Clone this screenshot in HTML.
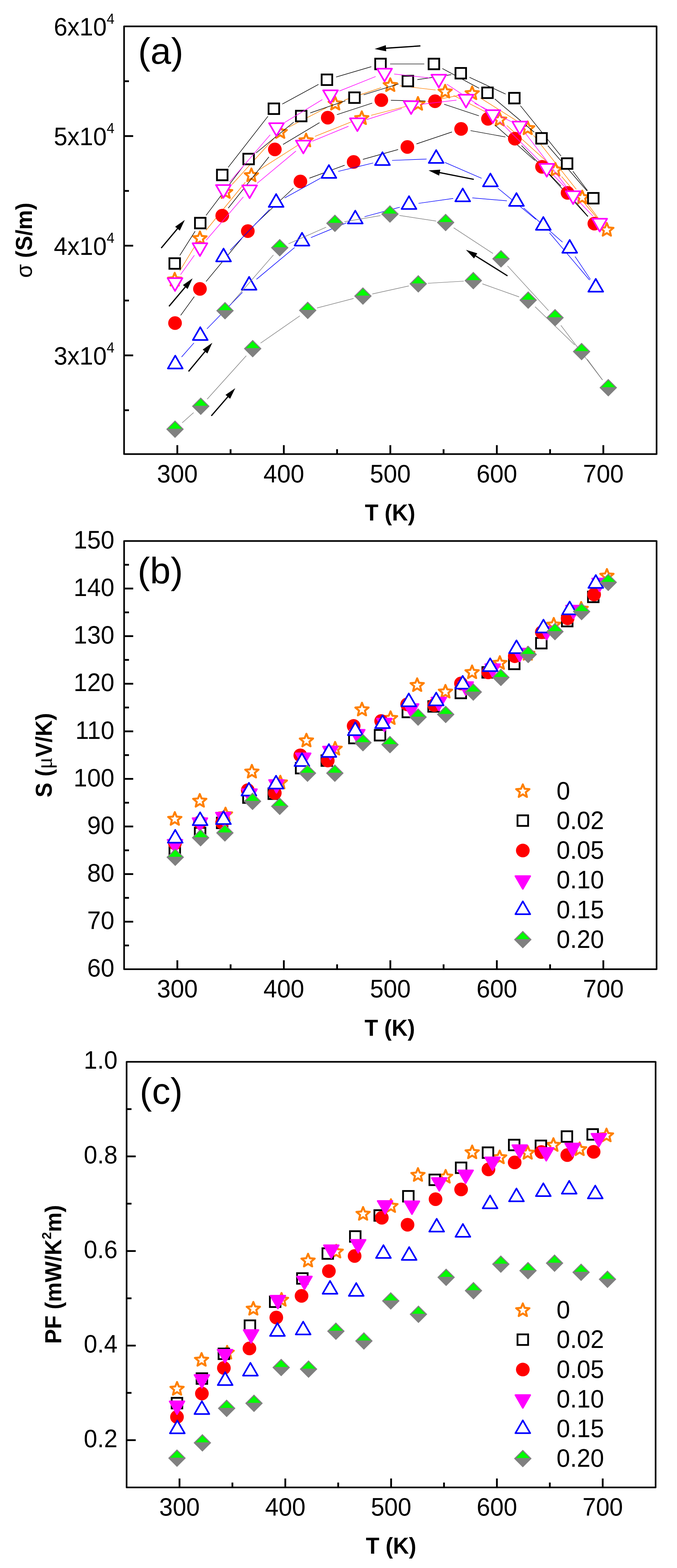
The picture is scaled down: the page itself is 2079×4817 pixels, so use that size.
<!DOCTYPE html>
<html lang="en"><head><meta charset="utf-8"><title>Figure: electrical conductivity, Seebeck coefficient and power factor vs temperature</title>
<style>
html,body{margin:0;padding:0;background:#fff;}
body{width:2079px;height:4817px;overflow:hidden;}
svg{display:block;}
svg text{font-family:"Liberation Sans",sans-serif;}
</style></head>
<body>
<svg width="2079" height="4817" viewBox="0 0 2079 4817" font-family='"Liberation Sans", sans-serif' fill="#000">
<g id="panel-a">
<path d="M551.87 832.32L598.63 755.68M632.66 707.65L753.34 559.85M796.88 521.15L915.12 445.85M967.38 419.03L1083.62 372.47M1139.58 354.21L1254.92 324.79M1312.45 311.85L1421.05 290.65M1474.95 300.73L1595.55 376.77M1638.76 415.67L1769.74 581.83M1805.83 628.5L1845.67 681M1844.31 682.09L1724.69 542.41M1683.58 500.26L1556.42 385.74M1508.26 352.53L1393.24 293.47M1337.71 276.52L1227.79 263.48M1170.55 269.43L1057.45 307.57M1003.27 330.5L886.73 390.5M840.67 425.84L712.83 566.66" fill="none" stroke="#ff8000" stroke-width="1.7"/>
<polygon points="536.5,838.14 542.08,851.86 556.85,852.93 545.54,862.48 549.08,876.86 536.5,869.04 523.92,876.86 527.46,862.48 516.15,852.93 530.92,851.86" fill="#fff" stroke="#ff8000" stroke-width="6.1" stroke-linejoin="round"/>
<polygon points="614,711.14 619.58,724.86 634.35,725.93 623.04,735.48 626.58,749.86 614,742.04 601.42,749.86 604.96,735.48 593.65,725.93 608.42,724.86" fill="#fff" stroke="#ff8000" stroke-width="6.1" stroke-linejoin="round"/>
<polygon points="693,569.14 698.58,582.86 713.35,583.93 702.04,593.48 705.58,607.86 693,600.04 680.42,607.86 683.96,593.48 672.65,583.93 687.42,582.86" fill="#fff" stroke="#ff8000" stroke-width="6.1" stroke-linejoin="round"/>
<polygon points="772,517.64 777.58,531.36 792.35,532.43 781.04,541.98 784.58,556.36 772,548.54 759.42,556.36 762.96,541.98 751.65,532.43 766.42,531.36" fill="#fff" stroke="#ff8000" stroke-width="6.1" stroke-linejoin="round"/>
<polygon points="860.5,384.64 866.08,398.36 880.85,399.43 869.54,408.98 873.08,423.36 860.5,415.54 847.92,423.36 851.46,408.98 840.15,399.43 854.92,398.36" fill="#fff" stroke="#ff8000" stroke-width="6.1" stroke-linejoin="round"/>
<polygon points="940,410.64 945.58,424.36 960.35,425.43 949.04,434.98 952.58,449.36 940,441.54 927.42,449.36 930.96,434.98 919.65,425.43 934.42,424.36" fill="#fff" stroke="#ff8000" stroke-width="6.1" stroke-linejoin="round"/>
<polygon points="1029.5,297.64 1035.08,311.36 1049.85,312.43 1038.54,321.98 1042.08,336.36 1029.5,328.54 1016.92,336.36 1020.46,321.98 1009.15,312.43 1023.92,311.36" fill="#fff" stroke="#ff8000" stroke-width="6.1" stroke-linejoin="round"/>
<polygon points="1111,342.14 1116.58,355.86 1131.35,356.93 1120.04,366.48 1123.58,380.86 1111,373.04 1098.42,380.86 1101.96,366.48 1090.65,356.93 1105.42,355.86" fill="#fff" stroke="#ff8000" stroke-width="6.1" stroke-linejoin="round"/>
<polygon points="1198.5,240.64 1204.08,254.36 1218.85,255.43 1207.54,264.98 1211.08,279.36 1198.5,271.54 1185.92,279.36 1189.46,264.98 1178.15,255.43 1192.92,254.36" fill="#fff" stroke="#ff8000" stroke-width="6.1" stroke-linejoin="round"/>
<polygon points="1283.5,298.14 1289.08,311.86 1303.85,312.93 1292.54,322.48 1296.08,336.86 1283.5,329.04 1270.92,336.86 1274.46,322.48 1263.15,312.93 1277.92,311.86" fill="#fff" stroke="#ff8000" stroke-width="6.1" stroke-linejoin="round"/>
<polygon points="1367,260.64 1372.58,274.36 1387.35,275.43 1376.04,284.98 1379.58,299.36 1367,291.54 1354.42,299.36 1357.96,284.98 1346.65,275.43 1361.42,274.36" fill="#fff" stroke="#ff8000" stroke-width="6.1" stroke-linejoin="round"/>
<polygon points="1450,265.64 1455.58,279.36 1470.35,280.43 1459.04,289.98 1462.58,304.36 1450,296.54 1437.42,304.36 1440.96,289.98 1429.65,280.43 1444.42,279.36" fill="#fff" stroke="#ff8000" stroke-width="6.1" stroke-linejoin="round"/>
<polygon points="1534.5,346.64 1540.08,360.36 1554.85,361.43 1543.54,370.98 1547.08,385.36 1534.5,377.54 1521.92,385.36 1525.46,370.98 1514.15,361.43 1528.92,360.36" fill="#fff" stroke="#ff8000" stroke-width="6.1" stroke-linejoin="round"/>
<polygon points="1620.5,373.14 1626.08,386.86 1640.85,387.93 1629.54,397.48 1633.08,411.86 1620.5,404.04 1607.92,411.86 1611.46,397.48 1600.15,387.93 1614.92,386.86" fill="#fff" stroke="#ff8000" stroke-width="6.1" stroke-linejoin="round"/>
<polygon points="1705.5,500.64 1711.08,514.36 1725.85,515.43 1714.54,524.98 1718.08,539.36 1705.5,531.54 1692.92,539.36 1696.46,524.98 1685.15,515.43 1699.92,514.36" fill="#fff" stroke="#ff8000" stroke-width="6.1" stroke-linejoin="round"/>
<polygon points="1788,585.64 1793.58,599.36 1808.35,600.43 1797.04,609.98 1800.58,624.36 1788,616.54 1775.42,624.36 1778.96,609.98 1767.65,600.43 1782.42,599.36" fill="#fff" stroke="#ff8000" stroke-width="6.1" stroke-linejoin="round"/>
<polygon points="1863.5,685.14 1869.08,698.86 1883.85,699.93 1872.54,709.48 1876.08,723.86 1863.5,716.04 1850.92,723.86 1854.46,709.48 1843.15,699.93 1857.92,698.86" fill="#fff" stroke="#ff8000" stroke-width="6.1" stroke-linejoin="round"/>
<path d="M552.26 784.56L599.24 710.24M632.77 661.75L745.73 512.05M786.34 469.83L902.16 375.17M952.88 346.86L1060.62 309.64M1116.67 291.24L1224.33 257.76M1281.68 244.69L1385.82 229.31M1441.75 237.44L1552.75 289.06M1598.01 324.47L1722.99 479.53M1759.29 526.03L1804.21 585.47M1802.71 586.68L1682.29 447.32M1640.45 405.98L1519.55 304.02M1471.02 271.02L1358.48 210.48M1303 196.5L1198 196.5M1140.2 204.84L1032.3 236.66M978.11 259.14L866.89 319.86M822.87 357.27L700.63 514.23" fill="none" stroke="#000000" stroke-width="1.7"/>
<rect x="520.25" y="793.25" width="32.5" height="32.5" fill="#fff" stroke="#000" stroke-width="5.5"/>
<rect x="598.75" y="669.05" width="32.5" height="32.5" fill="#fff" stroke="#000" stroke-width="5.5"/>
<rect x="666.25" y="521.25" width="32.5" height="32.5" fill="#fff" stroke="#000" stroke-width="5.5"/>
<rect x="747.25" y="472.25" width="32.5" height="32.5" fill="#fff" stroke="#000" stroke-width="5.5"/>
<rect x="824.75" y="317.75" width="32.5" height="32.5" fill="#fff" stroke="#000" stroke-width="5.5"/>
<rect x="908.75" y="340.25" width="32.5" height="32.5" fill="#fff" stroke="#000" stroke-width="5.5"/>
<rect x="987.75" y="228.75" width="32.5" height="32.5" fill="#fff" stroke="#000" stroke-width="5.5"/>
<rect x="1072.25" y="283.75" width="32.5" height="32.5" fill="#fff" stroke="#000" stroke-width="5.5"/>
<rect x="1152.25" y="180.25" width="32.5" height="32.5" fill="#fff" stroke="#000" stroke-width="5.5"/>
<rect x="1236.25" y="232.75" width="32.5" height="32.5" fill="#fff" stroke="#000" stroke-width="5.5"/>
<rect x="1316.25" y="180.25" width="32.5" height="32.5" fill="#fff" stroke="#000" stroke-width="5.5"/>
<rect x="1398.75" y="208.75" width="32.5" height="32.5" fill="#fff" stroke="#000" stroke-width="5.5"/>
<rect x="1480.75" y="268.75" width="32.5" height="32.5" fill="#fff" stroke="#000" stroke-width="5.5"/>
<rect x="1563.25" y="285.25" width="32.5" height="32.5" fill="#fff" stroke="#000" stroke-width="5.5"/>
<rect x="1646.75" y="408.75" width="32.5" height="32.5" fill="#fff" stroke="#000" stroke-width="5.5"/>
<rect x="1725.25" y="486.25" width="32.5" height="32.5" fill="#fff" stroke="#000" stroke-width="5.5"/>
<rect x="1805.75" y="592.75" width="32.5" height="32.5" fill="#fff" stroke="#000" stroke-width="5.5"/>
<path d="M554.87 968.66L596.63 911.34M632.82 864.78L742.18 732.72M782.45 689.75L901.05 577.75M950.19 547.34L1058.31 507.66M1114.42 489.58L1222.58 459.42M1278.96 442.1L1388.04 405.4M1445.02 401.28L1551.98 420.72M1601.57 447.14L1722.43 571.36M1762.36 614.76L1805.84 664.74M1805.22 665.3L1684.48 534.2M1642.45 492.91L1520.55 384.59M1470.51 355.7L1363.99 320.3M1306.51 310.37L1200.49 308.13M1142.97 316.7L1034.53 352.3M981.2 376.68L869.3 443.82M825.66 482.11L700.84 639.39" fill="none" stroke="#000000" stroke-width="1.7"/>
<circle cx="537.5" cy="992.5" r="21" fill="#ff0000"/>
<circle cx="614" cy="887.5" r="21" fill="#ff0000"/>
<circle cx="682.5" cy="662.5" r="21" fill="#ff0000"/>
<circle cx="761" cy="710" r="21" fill="#ff0000"/>
<circle cx="844" cy="459" r="21" fill="#ff0000"/>
<circle cx="922.5" cy="557.5" r="21" fill="#ff0000"/>
<circle cx="1006.5" cy="361.5" r="21" fill="#ff0000"/>
<circle cx="1086" cy="497.5" r="21" fill="#ff0000"/>
<circle cx="1171" cy="307.5" r="21" fill="#ff0000"/>
<circle cx="1251" cy="451.5" r="21" fill="#ff0000"/>
<circle cx="1336" cy="311" r="21" fill="#ff0000"/>
<circle cx="1416" cy="396" r="21" fill="#ff0000"/>
<circle cx="1498.5" cy="365" r="21" fill="#ff0000"/>
<circle cx="1581" cy="426" r="21" fill="#ff0000"/>
<circle cx="1664.5" cy="512.5" r="21" fill="#ff0000"/>
<circle cx="1743" cy="592.5" r="21" fill="#ff0000"/>
<circle cx="1825.2" cy="687" r="21" fill="#ff0000"/>
<path d="M554.63 843.58L596.87 784.32M633.21 737.91L747.29 604.99M789.16 563.71L908.84 463.99M958.77 433.85L1070.23 387.85M1125.61 367.66L1234.39 333.04M1291.79 320.62L1401.71 307.58M1457.39 317.29L1569.61 373.41M1613.94 410.01L1742.06 577.19M1780.48 621.83L1821.12 663.97M1821.12 663.97L1699.48 537.83M1658.11 495.77L1534.39 372.43M1488.84 335.41L1372.16 258.79M1318.18 239.34L1210.32 227.36M1153.62 235.07L1042.38 279.63M989.8 305.93L874.2 376.27M829.79 413.99L705.21 559.21" fill="none" stroke="#ff00ff" stroke-width="1.7"/>
<polygon points="514.8,854.5 560.2,854.5 537.5,893.8" fill="#fff" stroke="#ff00ff" stroke-width="5" stroke-linejoin="round"/>
<polygon points="591.3,747.2 636.7,747.2 614,786.5" fill="#fff" stroke="#ff00ff" stroke-width="5" stroke-linejoin="round"/>
<polygon points="663.3,568.5 708.7,568.5 686,607.8" fill="#fff" stroke="#ff00ff" stroke-width="5" stroke-linejoin="round"/>
<polygon points="743.8,569.5 789.2,569.5 766.5,608.8" fill="#fff" stroke="#ff00ff" stroke-width="5" stroke-linejoin="round"/>
<polygon points="826.3,378.5 871.7,378.5 849,417.8" fill="#fff" stroke="#ff00ff" stroke-width="5" stroke-linejoin="round"/>
<polygon points="908.8,432 954.2,432 931.5,471.3" fill="#fff" stroke="#ff00ff" stroke-width="5" stroke-linejoin="round"/>
<polygon points="992.3,277.5 1037.7,277.5 1015,316.8" fill="#fff" stroke="#ff00ff" stroke-width="5" stroke-linejoin="round"/>
<polygon points="1074.8,363.5 1120.2,363.5 1097.5,402.8" fill="#fff" stroke="#ff00ff" stroke-width="5" stroke-linejoin="round"/>
<polygon points="1158.3,211 1203.7,211 1181,250.3" fill="#fff" stroke="#ff00ff" stroke-width="5" stroke-linejoin="round"/>
<polygon points="1239.8,311 1285.2,311 1262.5,350.3" fill="#fff" stroke="#ff00ff" stroke-width="5" stroke-linejoin="round"/>
<polygon points="1324.8,229.5 1370.2,229.5 1347.5,268.8" fill="#fff" stroke="#ff00ff" stroke-width="5" stroke-linejoin="round"/>
<polygon points="1408.3,291 1453.7,291 1431,330.3" fill="#fff" stroke="#ff00ff" stroke-width="5" stroke-linejoin="round"/>
<polygon points="1490.8,338.5 1536.2,338.5 1513.5,377.8" fill="#fff" stroke="#ff00ff" stroke-width="5" stroke-linejoin="round"/>
<polygon points="1573.3,373.5 1618.7,373.5 1596,412.8" fill="#fff" stroke="#ff00ff" stroke-width="5" stroke-linejoin="round"/>
<polygon points="1656.3,503.5 1701.7,503.5 1679,542.8" fill="#fff" stroke="#ff00ff" stroke-width="5" stroke-linejoin="round"/>
<polygon points="1737.3,587.5 1782.7,587.5 1760,626.8" fill="#fff" stroke="#ff00ff" stroke-width="5" stroke-linejoin="round"/>
<polygon points="1818.9,672.1 1864.3,672.1 1841.6,711.4" fill="#fff" stroke="#ff00ff" stroke-width="5" stroke-linejoin="round"/>
<path d="M557.67 1096.64L595.53 1053.56M635.55 1010.23L744.45 898.07M787.66 858.01L904.84 760.29M954.74 730.07L1063.76 684.73M1119.48 665.72L1227.52 636.58M1285.21 624.74L1391.79 609.56M1450.39 607.89L1556.61 616.91M1608.14 638.9L1727.36 743.9M1765.91 787.91L1813.09 858.39M1810.43 860.39L1687.57 715.41M1645.71 674.17L1528.79 578.13M1478.92 547.69L1366.58 499.11M1310.02 488.56L1203.98 492.74M1145.82 500.79L1038.68 526.51M984.14 547.6L873.86 608.2M827.52 643.64L706.98 768.66" fill="none" stroke="#0000ff" stroke-width="1.7"/>
<polygon points="515.5,1131.9 560.9,1131.9 538.2,1092.6" fill="#fff" stroke="#0000ff" stroke-width="5" stroke-linejoin="round"/>
<polygon points="592.3,1044.5 637.7,1044.5 615,1005.2" fill="#fff" stroke="#0000ff" stroke-width="5" stroke-linejoin="round"/>
<polygon points="663.8,803 709.2,803 686.5,763.7" fill="#fff" stroke="#0000ff" stroke-width="5" stroke-linejoin="round"/>
<polygon points="742.3,890 787.7,890 765,850.7" fill="#fff" stroke="#0000ff" stroke-width="5" stroke-linejoin="round"/>
<polygon points="825.3,635.5 870.7,635.5 848,596.2" fill="#fff" stroke="#0000ff" stroke-width="5" stroke-linejoin="round"/>
<polygon points="904.8,754.5 950.2,754.5 927.5,715.2" fill="#fff" stroke="#0000ff" stroke-width="5" stroke-linejoin="round"/>
<polygon points="987.3,546.5 1032.7,546.5 1010,507.2" fill="#fff" stroke="#0000ff" stroke-width="5" stroke-linejoin="round"/>
<polygon points="1068.3,686.5 1113.7,686.5 1091,647.2" fill="#fff" stroke="#0000ff" stroke-width="5" stroke-linejoin="round"/>
<polygon points="1151.8,507 1197.2,507 1174.5,467.7" fill="#fff" stroke="#0000ff" stroke-width="5" stroke-linejoin="round"/>
<polygon points="1233.3,642 1278.7,642 1256,602.7" fill="#fff" stroke="#0000ff" stroke-width="5" stroke-linejoin="round"/>
<polygon points="1316.8,500.5 1362.2,500.5 1339.5,461.2" fill="#fff" stroke="#0000ff" stroke-width="5" stroke-linejoin="round"/>
<polygon points="1398.3,618.5 1443.7,618.5 1421,579.2" fill="#fff" stroke="#0000ff" stroke-width="5" stroke-linejoin="round"/>
<polygon points="1483.3,572.5 1528.7,572.5 1506,533.2" fill="#fff" stroke="#0000ff" stroke-width="5" stroke-linejoin="round"/>
<polygon points="1563.3,632.5 1608.7,632.5 1586,593.2" fill="#fff" stroke="#0000ff" stroke-width="5" stroke-linejoin="round"/>
<polygon points="1645.8,706 1691.2,706 1668.5,666.7" fill="#fff" stroke="#0000ff" stroke-width="5" stroke-linejoin="round"/>
<polygon points="1726.8,776.5 1772.2,776.5 1749.5,737.2" fill="#fff" stroke="#0000ff" stroke-width="5" stroke-linejoin="round"/>
<polygon points="1806.8,896 1852.2,896 1829.5,856.7" fill="#fff" stroke="#0000ff" stroke-width="5" stroke-linejoin="round"/>
<path d="M559.51 1298.86L594.49 1267.64M636.25 1226.09L756.25 1092.91M800.22 1054.16L920.78 970.34M973.55 946.09L1085.95 916.91M1143.31 903.15L1255.69 878.35M1313.95 870.26L1424.05 863.74M1481.29 871.9L1594.21 912.1M1643.24 942.47L1764.76 1059.53M1803.53 1103.73L1850.47 1167.27M1850.14 1167.52L1722.36 999.48M1684.56 954.26L1558.44 816.74M1513.83 778.82L1393.17 699.68M1339.34 679.07L1226.66 661.93M1168.41 662.41L1057.59 681.09M1001.52 697.94L885.98 749.06M839.66 783.28L710.34 932.22" fill="none" stroke="#808080" stroke-width="1.7"/>
<polygon points="510.5,1318.5 537.5,1291.5 564.5,1318.5 537.5,1345.5" fill="#808080"/><polygon points="516.5,1317 558.5,1317 537.5,1296" fill="#00ff00"/>
<polygon points="589.5,1248 616.5,1221 643.5,1248 616.5,1275" fill="#808080"/><polygon points="595.5,1246.5 637.5,1246.5 616.5,1225.5" fill="#00ff00"/>
<polygon points="664,954.5 691,927.5 718,954.5 691,981.5" fill="#808080"/><polygon points="670,953 712,953 691,932" fill="#00ff00"/>
<polygon points="749,1071 776,1044 803,1071 776,1098" fill="#808080"/><polygon points="755,1069.5 797,1069.5 776,1048.5" fill="#00ff00"/>
<polygon points="832,761 859,734 886,761 859,788" fill="#808080"/><polygon points="838,759.5 880,759.5 859,738.5" fill="#00ff00"/>
<polygon points="918,953.5 945,926.5 972,953.5 945,980.5" fill="#808080"/><polygon points="924,952 966,952 945,931" fill="#00ff00"/>
<polygon points="1001.5,686 1028.5,659 1055.5,686 1028.5,713" fill="#808080"/><polygon points="1007.5,684.5 1049.5,684.5 1028.5,663.5" fill="#00ff00"/>
<polygon points="1087.5,909.5 1114.5,882.5 1141.5,909.5 1114.5,936.5" fill="#808080"/><polygon points="1093.5,908 1135.5,908 1114.5,887" fill="#00ff00"/>
<polygon points="1170.5,657.5 1197.5,630.5 1224.5,657.5 1197.5,684.5" fill="#808080"/><polygon points="1176.5,656 1218.5,656 1197.5,635" fill="#00ff00"/>
<polygon points="1257.5,872 1284.5,845 1311.5,872 1284.5,899" fill="#808080"/><polygon points="1263.5,870.5 1305.5,870.5 1284.5,849.5" fill="#00ff00"/>
<polygon points="1341.5,683.5 1368.5,656.5 1395.5,683.5 1368.5,710.5" fill="#808080"/><polygon points="1347.5,682 1389.5,682 1368.5,661" fill="#00ff00"/>
<polygon points="1426.5,862 1453.5,835 1480.5,862 1453.5,889" fill="#808080"/><polygon points="1432.5,860.5 1474.5,860.5 1453.5,839.5" fill="#00ff00"/>
<polygon points="1511.5,795 1538.5,768 1565.5,795 1538.5,822" fill="#808080"/><polygon points="1517.5,793.5 1559.5,793.5 1538.5,772.5" fill="#00ff00"/>
<polygon points="1595,922 1622,895 1649,922 1622,949" fill="#808080"/><polygon points="1601,920.5 1643,920.5 1622,899.5" fill="#00ff00"/>
<polygon points="1677.5,976 1704.5,949 1731.5,976 1704.5,1003" fill="#808080"/><polygon points="1683.5,974.5 1725.5,974.5 1704.5,953.5" fill="#00ff00"/>
<polygon points="1759,1080 1786,1053 1813,1080 1786,1107" fill="#808080"/><polygon points="1765,1078.5 1807,1078.5 1786,1057.5" fill="#00ff00"/>
<polygon points="1841,1191 1868,1164 1895,1191 1868,1218" fill="#808080"/><polygon points="1847,1189.5 1889,1189.5 1868,1168.5" fill="#00ff00"/>
<line x1="1291" y1="141" x2="1183.42" y2="148.27" stroke="#000" stroke-width="3.8" stroke-linecap="butt"/><polygon points="1150.5,150.5 1184.79,138.86 1186.05,157.42" fill="#000"/>
<line x1="1455" y1="551" x2="1348.37" y2="529.9" stroke="#000" stroke-width="3.8" stroke-linecap="butt"/><polygon points="1316,523.5 1352.14,521.17 1348.53,539.42" fill="#000"/>
<line x1="1558.5" y1="847.5" x2="1458.95" y2="785.04" stroke="#000" stroke-width="3.8" stroke-linecap="butt"/><polygon points="1431,767.5 1465.59,778.22 1455.7,793.98" fill="#000"/>
<line x1="495.1" y1="762" x2="546.29" y2="700.98" stroke="#000" stroke-width="3.8" stroke-linecap="butt"/><polygon points="567.5,675.7 552.13,708.49 537.88,696.54" fill="#000"/>
<line x1="519" y1="941" x2="570.23" y2="880.23" stroke="#000" stroke-width="3.8" stroke-linecap="butt"/><polygon points="591.5,855 576.05,887.75 561.83,875.77" fill="#000"/>
<line x1="579" y1="1141" x2="630.93" y2="1078.4" stroke="#000" stroke-width="3.8" stroke-linecap="butt"/><polygon points="652,1053 636.81,1085.88 622.5,1074" fill="#000"/>
<line x1="649" y1="1277.5" x2="700.92" y2="1217.46" stroke="#000" stroke-width="3.8" stroke-linecap="butt"/><polygon points="722.5,1192.5 706.64,1225.06 692.57,1212.89" fill="#000"/>
<rect x="381" y="81" width="1635.3" height="1314" fill="none" stroke="#000" stroke-width="5" stroke-linejoin="round"/>
<path d="M544.53 1395V1367.5M708.06 1395V1380M871.59 1395V1367.5M1035.12 1395V1380M1198.65 1395V1367.5M1362.18 1395V1380M1525.71 1395V1367.5M1689.24 1395V1380M1852.77 1395V1367.5" stroke="#000" stroke-width="5.5" fill="none"/>
<path d="M381 1091.77H409M381 754.85H409M381 417.92H409M381 1260.23H396M381 923.31H396M381 586.38H396M381 249.46H396" stroke="#000" stroke-width="5.5" fill="none"/>
<text transform="translate(544.53 1481.5) scale(1 1.048)" font-size="75" text-anchor="middle">300</text>
<text transform="translate(871.59 1481.5) scale(1 1.048)" font-size="75" text-anchor="middle">400</text>
<text transform="translate(1198.65 1481.5) scale(1 1.048)" font-size="75" text-anchor="middle">500</text>
<text transform="translate(1525.71 1481.5) scale(1 1.048)" font-size="75" text-anchor="middle">600</text>
<text transform="translate(1852.77 1481.5) scale(1 1.048)" font-size="75" text-anchor="middle">700</text>
<text transform="translate(351.4 109.25) scale(1 1.048)" font-size="75" text-anchor="end">6x10<tspan font-size="42.5" dy="-35">4</tspan></text>
<text transform="translate(351.4 446.17) scale(1 1.048)" font-size="75" text-anchor="end">5x10<tspan font-size="42.5" dy="-35">4</tspan></text>
<text transform="translate(351.4 783.1) scale(1 1.048)" font-size="75" text-anchor="end">4x10<tspan font-size="42.5" dy="-35">4</tspan></text>
<text transform="translate(351.4 1120.02) scale(1 1.048)" font-size="75" text-anchor="end">3x10<tspan font-size="42.5" dy="-35">4</tspan></text>
<text transform="translate(1198 1598.8) scale(1 1.035)" font-size="68" text-anchor="middle" font-weight="bold">T (K)</text>
<text transform="translate(97.8 738) rotate(-90) scale(1 1.035)" font-size="68" text-anchor="middle" font-weight="bold"><tspan font-weight="normal">σ</tspan> (S/m)</text>
<text x="424" y="196" font-size="114" text-anchor="start">(a)</text>
</g>
<g id="panel-b">
<polygon points="536.8,2494.94 542.38,2508.66 557.15,2509.73 545.84,2519.28 549.38,2533.66 536.8,2525.84 524.22,2533.66 527.76,2519.28 516.45,2509.73 531.22,2508.66" fill="#fff" stroke="#ff8000" stroke-width="6.1" stroke-linejoin="round"/>
<polygon points="613.5,2439.24 619.08,2452.96 633.85,2454.03 622.54,2463.58 626.08,2477.96 613.5,2470.14 600.92,2477.96 604.46,2463.58 593.15,2454.03 607.92,2452.96" fill="#fff" stroke="#ff8000" stroke-width="6.1" stroke-linejoin="round"/>
<polygon points="692.5,2481.04 698.08,2494.76 712.85,2495.83 701.54,2505.38 705.08,2519.76 692.5,2511.94 679.92,2519.76 683.46,2505.38 672.15,2495.83 686.92,2494.76" fill="#fff" stroke="#ff8000" stroke-width="6.1" stroke-linejoin="round"/>
<polygon points="773.5,2349.74 779.08,2363.46 793.85,2364.53 782.54,2374.08 786.08,2388.46 773.5,2380.64 760.92,2388.46 764.46,2374.08 753.15,2364.53 767.92,2363.46" fill="#fff" stroke="#ff8000" stroke-width="6.1" stroke-linejoin="round"/>
<polygon points="860.8,2383.04 866.38,2396.76 881.15,2397.83 869.84,2407.38 873.38,2421.76 860.8,2413.94 848.22,2421.76 851.76,2407.38 840.45,2397.83 855.22,2396.76" fill="#fff" stroke="#ff8000" stroke-width="6.1" stroke-linejoin="round"/>
<polygon points="941,2254.04 946.58,2267.76 961.35,2268.83 950.04,2278.38 953.58,2292.76 941,2284.94 928.42,2292.76 931.96,2278.38 920.65,2268.83 935.42,2267.76" fill="#fff" stroke="#ff8000" stroke-width="6.1" stroke-linejoin="round"/>
<polygon points="1029.1,2279.24 1034.68,2292.96 1049.45,2294.03 1038.14,2303.58 1041.68,2317.96 1029.1,2310.14 1016.52,2317.96 1020.06,2303.58 1008.75,2294.03 1023.52,2292.96" fill="#fff" stroke="#ff8000" stroke-width="6.1" stroke-linejoin="round"/>
<polygon points="1111.6,2158.84 1117.18,2172.56 1131.95,2173.63 1120.64,2183.18 1124.18,2197.56 1111.6,2189.74 1099.02,2197.56 1102.56,2183.18 1091.25,2173.63 1106.02,2172.56" fill="#fff" stroke="#ff8000" stroke-width="6.1" stroke-linejoin="round"/>
<polygon points="1199.4,2185.24 1204.98,2198.96 1219.75,2200.03 1208.44,2209.58 1211.98,2223.96 1199.4,2216.14 1186.82,2223.96 1190.36,2209.58 1179.05,2200.03 1193.82,2198.96" fill="#fff" stroke="#ff8000" stroke-width="6.1" stroke-linejoin="round"/>
<polygon points="1281.1,2083.84 1286.68,2097.56 1301.45,2098.63 1290.14,2108.18 1293.68,2122.56 1281.1,2114.74 1268.52,2122.56 1272.06,2108.18 1260.75,2098.63 1275.52,2097.56" fill="#fff" stroke="#ff8000" stroke-width="6.1" stroke-linejoin="round"/>
<polygon points="1367.9,2104.04 1373.48,2117.76 1388.25,2118.83 1376.94,2128.38 1380.48,2142.76 1367.9,2134.94 1355.32,2142.76 1358.86,2128.38 1347.55,2118.83 1362.32,2117.76" fill="#fff" stroke="#ff8000" stroke-width="6.1" stroke-linejoin="round"/>
<polygon points="1449.7,2044.34 1455.28,2058.06 1470.05,2059.13 1458.74,2068.68 1462.28,2083.06 1449.7,2075.24 1437.12,2083.06 1440.66,2068.68 1429.35,2059.13 1444.12,2058.06" fill="#fff" stroke="#ff8000" stroke-width="6.1" stroke-linejoin="round"/>
<polygon points="1534.9,2015.94 1540.48,2029.66 1555.25,2030.73 1543.94,2040.28 1547.48,2054.66 1534.9,2046.84 1522.32,2054.66 1525.86,2040.28 1514.55,2030.73 1529.32,2029.66" fill="#fff" stroke="#ff8000" stroke-width="6.1" stroke-linejoin="round"/>
<polygon points="1620.7,1987.64 1626.28,2001.36 1641.05,2002.43 1629.74,2011.98 1633.28,2026.36 1620.7,2018.54 1608.12,2026.36 1611.66,2011.98 1600.35,2002.43 1615.12,2001.36" fill="#fff" stroke="#ff8000" stroke-width="6.1" stroke-linejoin="round"/>
<polygon points="1700.5,1898.44 1706.08,1912.16 1720.85,1913.23 1709.54,1922.78 1713.08,1937.16 1700.5,1929.34 1687.92,1937.16 1691.46,1922.78 1680.15,1913.23 1694.92,1912.16" fill="#fff" stroke="#ff8000" stroke-width="6.1" stroke-linejoin="round"/>
<polygon points="1784.7,1849.44 1790.28,1863.16 1805.05,1864.23 1793.74,1873.78 1797.28,1888.16 1784.7,1880.34 1772.12,1888.16 1775.66,1873.78 1764.35,1864.23 1779.12,1863.16" fill="#fff" stroke="#ff8000" stroke-width="6.1" stroke-linejoin="round"/>
<polygon points="1863.8,1748.04 1869.38,1761.76 1884.15,1762.83 1872.84,1772.38 1876.38,1786.76 1863.8,1778.94 1851.22,1786.76 1854.76,1772.38 1843.45,1762.83 1858.22,1761.76" fill="#fff" stroke="#ff8000" stroke-width="6.1" stroke-linejoin="round"/>
<rect x="520.45" y="2599.05" width="32.5" height="32.5" fill="#fff" stroke="#000" stroke-width="5.5"/>
<rect x="598.25" y="2543.05" width="32.5" height="32.5" fill="#fff" stroke="#000" stroke-width="5.5"/>
<rect x="665.95" y="2511.75" width="32.5" height="32.5" fill="#fff" stroke="#000" stroke-width="5.5"/>
<rect x="746.65" y="2434.05" width="32.5" height="32.5" fill="#fff" stroke="#000" stroke-width="5.5"/>
<rect x="824.45" y="2422.15" width="32.5" height="32.5" fill="#fff" stroke="#000" stroke-width="5.5"/>
<rect x="908.45" y="2343.55" width="32.5" height="32.5" fill="#fff" stroke="#000" stroke-width="5.5"/>
<rect x="987.25" y="2320.35" width="32.5" height="32.5" fill="#fff" stroke="#000" stroke-width="5.5"/>
<rect x="1071.95" y="2251.15" width="32.5" height="32.5" fill="#fff" stroke="#000" stroke-width="5.5"/>
<rect x="1150.75" y="2242.45" width="32.5" height="32.5" fill="#fff" stroke="#000" stroke-width="5.5"/>
<rect x="1236.05" y="2171.05" width="32.5" height="32.5" fill="#fff" stroke="#000" stroke-width="5.5"/>
<rect x="1315.25" y="2153.95" width="32.5" height="32.5" fill="#fff" stroke="#000" stroke-width="5.5"/>
<rect x="1398.85" y="2112.65" width="32.5" height="32.5" fill="#fff" stroke="#000" stroke-width="5.5"/>
<rect x="1481.35" y="2049.35" width="32.5" height="32.5" fill="#fff" stroke="#000" stroke-width="5.5"/>
<rect x="1563.05" y="2023.35" width="32.5" height="32.5" fill="#fff" stroke="#000" stroke-width="5.5"/>
<rect x="1646.15" y="1959.65" width="32.5" height="32.5" fill="#fff" stroke="#000" stroke-width="5.5"/>
<rect x="1725.65" y="1891.85" width="32.5" height="32.5" fill="#fff" stroke="#000" stroke-width="5.5"/>
<rect x="1805.65" y="1817.45" width="32.5" height="32.5" fill="#fff" stroke="#000" stroke-width="5.5"/>
<circle cx="537.2" cy="2590.6" r="21" fill="#ff0000"/>
<circle cx="614" cy="2525.9" r="21" fill="#ff0000"/>
<circle cx="682.2" cy="2526.8" r="21" fill="#ff0000"/>
<circle cx="760.9" cy="2427.5" r="21" fill="#ff0000"/>
<circle cx="843.9" cy="2436.1" r="21" fill="#ff0000"/>
<circle cx="922.2" cy="2320.4" r="21" fill="#ff0000"/>
<circle cx="1006.5" cy="2336.4" r="21" fill="#ff0000"/>
<circle cx="1086" cy="2230.1" r="21" fill="#ff0000"/>
<circle cx="1170.5" cy="2215" r="21" fill="#ff0000"/>
<circle cx="1250.3" cy="2163.9" r="21" fill="#ff0000"/>
<circle cx="1333.5" cy="2166" r="21" fill="#ff0000"/>
<circle cx="1415.6" cy="2099.5" r="21" fill="#ff0000"/>
<circle cx="1499.1" cy="2065.5" r="21" fill="#ff0000"/>
<circle cx="1580.8" cy="2015.9" r="21" fill="#ff0000"/>
<circle cx="1663.9" cy="1942.3" r="21" fill="#ff0000"/>
<circle cx="1743.1" cy="1899.7" r="21" fill="#ff0000"/>
<circle cx="1824.5" cy="1826.3" r="21" fill="#ff0000"/>
<polygon points="514.6,2579.9 560,2579.9 537.3,2619.2" fill="#ff00ff" stroke="#ff00ff" stroke-width="5" stroke-linejoin="round"/>
<polygon points="591.3,2513.4 636.7,2513.4 614,2552.7" fill="#ff00ff" stroke="#ff00ff" stroke-width="5" stroke-linejoin="round"/>
<polygon points="663,2496.5 708.4,2496.5 685.7,2535.8" fill="#ff00ff" stroke="#ff00ff" stroke-width="5" stroke-linejoin="round"/>
<polygon points="743.5,2424.6 788.9,2424.6 766.2,2463.9" fill="#ff00ff" stroke="#ff00ff" stroke-width="5" stroke-linejoin="round"/>
<polygon points="826.3,2396.2 871.7,2396.2 849,2435.5" fill="#ff00ff" stroke="#ff00ff" stroke-width="5" stroke-linejoin="round"/>
<polygon points="908.5,2314.2 953.9,2314.2 931.2,2353.5" fill="#ff00ff" stroke="#ff00ff" stroke-width="5" stroke-linejoin="round"/>
<polygon points="991.8,2293.5 1037.2,2293.5 1014.5,2332.8" fill="#ff00ff" stroke="#ff00ff" stroke-width="5" stroke-linejoin="round"/>
<polygon points="1074.6,2242 1120,2242 1097.3,2281.3" fill="#ff00ff" stroke="#ff00ff" stroke-width="5" stroke-linejoin="round"/>
<polygon points="1157.8,2207.4 1203.2,2207.4 1180.5,2246.7" fill="#ff00ff" stroke="#ff00ff" stroke-width="5" stroke-linejoin="round"/>
<polygon points="1240.1,2162.9 1285.5,2162.9 1262.8,2202.2" fill="#ff00ff" stroke="#ff00ff" stroke-width="5" stroke-linejoin="round"/>
<polygon points="1324.9,2143.1 1370.3,2143.1 1347.6,2182.4" fill="#ff00ff" stroke="#ff00ff" stroke-width="5" stroke-linejoin="round"/>
<polygon points="1407.4,2095.6 1452.8,2095.6 1430.1,2134.9" fill="#ff00ff" stroke="#ff00ff" stroke-width="5" stroke-linejoin="round"/>
<polygon points="1490.2,2040.4 1535.6,2040.4 1512.9,2079.7" fill="#ff00ff" stroke="#ff00ff" stroke-width="5" stroke-linejoin="round"/>
<polygon points="1573.4,1992.6 1618.8,1992.6 1596.1,2031.9" fill="#ff00ff" stroke="#ff00ff" stroke-width="5" stroke-linejoin="round"/>
<polygon points="1656,1925.2 1701.4,1925.2 1678.7,1964.5" fill="#ff00ff" stroke="#ff00ff" stroke-width="5" stroke-linejoin="round"/>
<polygon points="1738.2,1860.4 1783.6,1860.4 1760.9,1899.7" fill="#ff00ff" stroke="#ff00ff" stroke-width="5" stroke-linejoin="round"/>
<polygon points="1818.5,1777.2 1863.9,1777.2 1841.2,1816.5" fill="#ff00ff" stroke="#ff00ff" stroke-width="5" stroke-linejoin="round"/>
<polygon points="515.4,2588.7 560.8,2588.7 538.1,2549.4" fill="#fff" stroke="#0000ff" stroke-width="5" stroke-linejoin="round"/>
<polygon points="591.8,2534.9 637.2,2534.9 614.5,2495.6" fill="#fff" stroke="#0000ff" stroke-width="5" stroke-linejoin="round"/>
<polygon points="663.5,2531.5 708.9,2531.5 686.2,2492.2" fill="#fff" stroke="#0000ff" stroke-width="5" stroke-linejoin="round"/>
<polygon points="741.7,2444.1 787.1,2444.1 764.4,2404.8" fill="#fff" stroke="#0000ff" stroke-width="5" stroke-linejoin="round"/>
<polygon points="825,2422.4 870.4,2422.4 847.7,2383.1" fill="#fff" stroke="#0000ff" stroke-width="5" stroke-linejoin="round"/>
<polygon points="904.5,2353.2 949.9,2353.2 927.2,2313.9" fill="#fff" stroke="#0000ff" stroke-width="5" stroke-linejoin="round"/>
<polygon points="987.3,2325.2 1032.7,2325.2 1010,2285.9" fill="#fff" stroke="#0000ff" stroke-width="5" stroke-linejoin="round"/>
<polygon points="1068.3,2258.4 1113.7,2258.4 1091,2219.1" fill="#fff" stroke="#0000ff" stroke-width="5" stroke-linejoin="round"/>
<polygon points="1152.1,2236.8 1197.5,2236.8 1174.8,2197.5" fill="#fff" stroke="#0000ff" stroke-width="5" stroke-linejoin="round"/>
<polygon points="1232.6,2169.7 1278,2169.7 1255.3,2130.4" fill="#fff" stroke="#0000ff" stroke-width="5" stroke-linejoin="round"/>
<polygon points="1316.9,2167 1362.3,2167 1339.6,2127.7" fill="#fff" stroke="#0000ff" stroke-width="5" stroke-linejoin="round"/>
<polygon points="1398.1,2115.6 1443.5,2115.6 1420.8,2076.3" fill="#fff" stroke="#0000ff" stroke-width="5" stroke-linejoin="round"/>
<polygon points="1482.6,2061.8 1528,2061.8 1505.3,2022.5" fill="#fff" stroke="#0000ff" stroke-width="5" stroke-linejoin="round"/>
<polygon points="1563.4,2006.6 1608.8,2006.6 1586.1,1967.3" fill="#fff" stroke="#0000ff" stroke-width="5" stroke-linejoin="round"/>
<polygon points="1646.2,1942.9 1691.6,1942.9 1668.9,1903.6" fill="#fff" stroke="#0000ff" stroke-width="5" stroke-linejoin="round"/>
<polygon points="1726.7,1887.3 1772.1,1887.3 1749.4,1848" fill="#fff" stroke="#0000ff" stroke-width="5" stroke-linejoin="round"/>
<polygon points="1806.9,1805.9 1852.3,1805.9 1829.6,1766.6" fill="#fff" stroke="#0000ff" stroke-width="5" stroke-linejoin="round"/>
<polygon points="511.2,2633.4 538.2,2606.4 565.2,2633.4 538.2,2660.4" fill="#808080"/><polygon points="517.2,2631.9 559.2,2631.9 538.2,2610.9" fill="#00ff00"/>
<polygon points="589,2573.5 616,2546.5 643,2573.5 616,2600.5" fill="#808080"/><polygon points="595,2572 637,2572 616,2551" fill="#00ff00"/>
<polygon points="663.7,2558.7 690.7,2531.7 717.7,2558.7 690.7,2585.7" fill="#808080"/><polygon points="669.7,2557.2 711.7,2557.2 690.7,2536.2" fill="#00ff00"/>
<polygon points="748.5,2461.7 775.5,2434.7 802.5,2461.7 775.5,2488.7" fill="#808080"/><polygon points="754.5,2460.2 796.5,2460.2 775.5,2439.2" fill="#00ff00"/>
<polygon points="832,2476.9 859,2449.9 886,2476.9 859,2503.9" fill="#808080"/><polygon points="838,2475.4 880,2475.4 859,2454.4" fill="#00ff00"/>
<polygon points="917.3,2375.2 944.3,2348.2 971.3,2375.2 944.3,2402.2" fill="#808080"/><polygon points="923.3,2373.7 965.3,2373.7 944.3,2352.7" fill="#00ff00"/>
<polygon points="1001.3,2375.2 1028.3,2348.2 1055.3,2375.2 1028.3,2402.2" fill="#808080"/><polygon points="1007.3,2373.7 1049.3,2373.7 1028.3,2352.7" fill="#00ff00"/>
<polygon points="1087.6,2281.6 1114.6,2254.6 1141.6,2281.6 1114.6,2308.6" fill="#808080"/><polygon points="1093.6,2280.1 1135.6,2280.1 1114.6,2259.1" fill="#00ff00"/>
<polygon points="1170.6,2287.4 1197.6,2260.4 1224.6,2287.4 1197.6,2314.4" fill="#808080"/><polygon points="1176.6,2285.9 1218.6,2285.9 1197.6,2264.9" fill="#00ff00"/>
<polygon points="1256.9,2203 1283.9,2176 1310.9,2203 1283.9,2230" fill="#808080"/><polygon points="1262.9,2201.5 1304.9,2201.5 1283.9,2180.5" fill="#00ff00"/>
<polygon points="1341.7,2194.8 1368.7,2167.8 1395.7,2194.8 1368.7,2221.8" fill="#808080"/><polygon points="1347.7,2193.3 1389.7,2193.3 1368.7,2172.3" fill="#00ff00"/>
<polygon points="1426.4,2125.9 1453.4,2098.9 1480.4,2125.9 1453.4,2152.9" fill="#808080"/><polygon points="1432.4,2124.4 1474.4,2124.4 1453.4,2103.4" fill="#00ff00"/>
<polygon points="1511.2,2081.1 1538.2,2054.1 1565.2,2081.1 1538.2,2108.1" fill="#808080"/><polygon points="1517.2,2079.6 1559.2,2079.6 1538.2,2058.6" fill="#00ff00"/>
<polygon points="1595,2010.6 1622,1983.6 1649,2010.6 1622,2037.6" fill="#808080"/><polygon points="1601,2009.1 1643,2009.1 1622,1988.1" fill="#00ff00"/>
<polygon points="1677.2,1940.3 1704.2,1913.3 1731.2,1940.3 1704.2,1967.3" fill="#808080"/><polygon points="1683.2,1938.8 1725.2,1938.8 1704.2,1917.8" fill="#00ff00"/>
<polygon points="1759,1878.8 1786,1851.8 1813,1878.8 1786,1905.8" fill="#808080"/><polygon points="1765,1877.3 1807,1877.3 1786,1856.3" fill="#00ff00"/>
<polygon points="1840.8,1789 1867.8,1762 1894.8,1789 1867.8,1816" fill="#808080"/><polygon points="1846.8,1787.5 1888.8,1787.5 1867.8,1766.5" fill="#00ff00"/>
<rect x="381.1" y="1661.9" width="1635.2" height="1315.7" fill="none" stroke="#000" stroke-width="5" stroke-linejoin="round"/>
<path d="M544.62 2977.6V2950.1M708.14 2977.6V2962.6M871.66 2977.6V2950.1M1035.18 2977.6V2962.6M1198.7 2977.6V2950.1M1362.22 2977.6V2962.6M1525.74 2977.6V2950.1M1689.26 2977.6V2962.6M1852.78 2977.6V2950.1" stroke="#000" stroke-width="5.5" fill="none"/>
<path d="M381.1 2831.41H409.1M381.1 2685.22H409.1M381.1 2539.03H409.1M381.1 2392.84H409.1M381.1 2246.66H409.1M381.1 2100.47H409.1M381.1 1954.28H409.1M381.1 1808.09H409.1M381.1 2904.51H396.1M381.1 2758.32H396.1M381.1 2612.13H396.1M381.1 2465.94H396.1M381.1 2319.75H396.1M381.1 2173.56H396.1M381.1 2027.37H396.1M381.1 1881.18H396.1M381.1 1734.99H396.1" stroke="#000" stroke-width="5.5" fill="none"/>
<text transform="translate(544.62 3064.1) scale(1 1.048)" font-size="75" text-anchor="middle">300</text>
<text transform="translate(871.66 3064.1) scale(1 1.048)" font-size="75" text-anchor="middle">400</text>
<text transform="translate(1198.7 3064.1) scale(1 1.048)" font-size="75" text-anchor="middle">500</text>
<text transform="translate(1525.74 3064.1) scale(1 1.048)" font-size="75" text-anchor="middle">600</text>
<text transform="translate(1852.78 3064.1) scale(1 1.048)" font-size="75" text-anchor="middle">700</text>
<text transform="translate(351.1 1684.75) scale(1 1.048)" font-size="75" text-anchor="end">150</text>
<text transform="translate(351.1 1830.94) scale(1 1.048)" font-size="75" text-anchor="end">140</text>
<text transform="translate(351.1 1977.13) scale(1 1.048)" font-size="75" text-anchor="end">130</text>
<text transform="translate(351.1 2123.32) scale(1 1.048)" font-size="75" text-anchor="end">120</text>
<text transform="translate(351.1 2269.51) scale(1 1.048)" font-size="75" text-anchor="end">110</text>
<text transform="translate(351.1 2415.69) scale(1 1.048)" font-size="75" text-anchor="end">100</text>
<text transform="translate(351.1 2561.88) scale(1 1.048)" font-size="75" text-anchor="end">90</text>
<text transform="translate(351.1 2708.07) scale(1 1.048)" font-size="75" text-anchor="end">80</text>
<text transform="translate(351.1 2854.26) scale(1 1.048)" font-size="75" text-anchor="end">70</text>
<text transform="translate(351.1 3000.45) scale(1 1.048)" font-size="75" text-anchor="end">60</text>
<text transform="translate(1197 3181.8) scale(1 1.035)" font-size="68" text-anchor="middle" font-weight="bold">T (K)</text>
<text transform="translate(159.3 2320) rotate(-90) scale(1 1.035)" font-size="68" text-anchor="middle" font-weight="bold">S (<tspan font-weight="normal" font-family="'Liberation Serif',serif">μ</tspan>V/K)</text>
<text x="422.6" y="1791.7" font-size="114" text-anchor="start">(b)</text>
<polygon points="1605.5,2409.54 1611.08,2423.26 1625.85,2424.33 1614.54,2433.88 1618.08,2448.26 1605.5,2440.44 1592.92,2448.26 1596.46,2433.88 1585.15,2424.33 1599.92,2423.26" fill="#fff" stroke="#ff8000" stroke-width="6.1" stroke-linejoin="round"/>
<text transform="translate(1709 2455.55) scale(1 1.048)" font-size="75" text-anchor="start">0</text>
<rect x="1589.25" y="2504.75" width="32.5" height="32.5" fill="#fff" stroke="#000" stroke-width="5.5"/>
<text transform="translate(1709 2546.85) scale(1 1.048)" font-size="75" text-anchor="start">0.02</text>
<circle cx="1605.5" cy="2612.8" r="21" fill="#ff0000"/>
<text transform="translate(1709 2638.15) scale(1 1.048)" font-size="75" text-anchor="start">0.05</text>
<polygon points="1582.8,2691.4 1628.2,2691.4 1605.5,2730.7" fill="#ff00ff" stroke="#ff00ff" stroke-width="5" stroke-linejoin="round"/>
<text transform="translate(1709 2729.45) scale(1 1.048)" font-size="75" text-anchor="start">0.10</text>
<polygon points="1582.8,2808.4 1628.2,2808.4 1605.5,2769.1" fill="#fff" stroke="#0000ff" stroke-width="5" stroke-linejoin="round"/>
<text transform="translate(1709 2820.75) scale(1 1.048)" font-size="75" text-anchor="start">0.15</text>
<polygon points="1578.5,2886.4 1605.5,2859.4 1632.5,2886.4 1605.5,2913.4" fill="#808080"/><polygon points="1584.5,2884.9 1626.5,2884.9 1605.5,2863.9" fill="#00ff00"/>
<text transform="translate(1709 2912.05) scale(1 1.048)" font-size="75" text-anchor="start">0.20</text>
</g>
<g id="panel-c">
<polygon points="543.7,4245.64 549.28,4259.36 564.05,4260.43 552.74,4269.98 556.28,4284.36 543.7,4276.54 531.12,4284.36 534.66,4269.98 523.35,4260.43 538.12,4259.36" fill="#fff" stroke="#ff8000" stroke-width="6.1" stroke-linejoin="round"/>
<polygon points="619,4156.64 624.58,4170.36 639.35,4171.43 628.04,4180.98 631.58,4195.36 619,4187.54 606.42,4195.36 609.96,4180.98 598.65,4171.43 613.42,4170.36" fill="#fff" stroke="#ff8000" stroke-width="6.1" stroke-linejoin="round"/>
<polygon points="697.5,4134.64 703.08,4148.36 717.85,4149.43 706.54,4158.98 710.08,4173.36 697.5,4165.54 684.92,4173.36 688.46,4158.98 677.15,4149.43 691.92,4148.36" fill="#fff" stroke="#ff8000" stroke-width="6.1" stroke-linejoin="round"/>
<polygon points="778,3999.64 783.58,4013.36 798.35,4014.43 787.04,4023.98 790.58,4038.36 778,4030.54 765.42,4038.36 768.96,4023.98 757.65,4014.43 772.42,4013.36" fill="#fff" stroke="#ff8000" stroke-width="6.1" stroke-linejoin="round"/>
<polygon points="864.5,3972.14 870.08,3985.86 884.85,3986.93 873.54,3996.48 877.08,4010.86 864.5,4003.04 851.92,4010.86 855.46,3996.48 844.15,3986.93 858.92,3985.86" fill="#fff" stroke="#ff8000" stroke-width="6.1" stroke-linejoin="round"/>
<polygon points="946,3851.64 951.58,3865.36 966.35,3866.43 955.04,3875.98 958.58,3890.36 946,3882.54 933.42,3890.36 936.96,3875.98 925.65,3866.43 940.42,3865.36" fill="#fff" stroke="#ff8000" stroke-width="6.1" stroke-linejoin="round"/>
<polygon points="1032.5,3824.14 1038.08,3837.86 1052.85,3838.93 1041.54,3848.48 1045.08,3862.86 1032.5,3855.04 1019.92,3862.86 1023.46,3848.48 1012.15,3838.93 1026.92,3837.86" fill="#fff" stroke="#ff8000" stroke-width="6.1" stroke-linejoin="round"/>
<polygon points="1115,3708.14 1120.58,3721.86 1135.35,3722.93 1124.04,3732.48 1127.58,3746.86 1115,3739.04 1102.42,3746.86 1105.96,3732.48 1094.65,3722.93 1109.42,3721.86" fill="#fff" stroke="#ff8000" stroke-width="6.1" stroke-linejoin="round"/>
<polygon points="1200.5,3684.14 1206.08,3697.86 1220.85,3698.93 1209.54,3708.48 1213.08,3722.86 1200.5,3715.04 1187.92,3722.86 1191.46,3708.48 1180.15,3698.93 1194.92,3697.86" fill="#fff" stroke="#ff8000" stroke-width="6.1" stroke-linejoin="round"/>
<polygon points="1283.5,3588.64 1289.08,3602.36 1303.85,3603.43 1292.54,3612.98 1296.08,3627.36 1283.5,3619.54 1270.92,3627.36 1274.46,3612.98 1263.15,3603.43 1277.92,3602.36" fill="#fff" stroke="#ff8000" stroke-width="6.1" stroke-linejoin="round"/>
<polygon points="1368.5,3594.14 1374.08,3607.86 1388.85,3608.93 1377.54,3618.48 1381.08,3632.86 1368.5,3625.04 1355.92,3632.86 1359.46,3618.48 1348.15,3608.93 1362.92,3607.86" fill="#fff" stroke="#ff8000" stroke-width="6.1" stroke-linejoin="round"/>
<polygon points="1450,3519.14 1455.58,3532.86 1470.35,3533.93 1459.04,3543.48 1462.58,3557.86 1450,3550.04 1437.42,3557.86 1440.96,3543.48 1429.65,3533.93 1444.42,3532.86" fill="#fff" stroke="#ff8000" stroke-width="6.1" stroke-linejoin="round"/>
<polygon points="1534.5,3534.64 1540.08,3548.36 1554.85,3549.43 1543.54,3558.98 1547.08,3573.36 1534.5,3565.54 1521.92,3573.36 1525.46,3558.98 1514.15,3549.43 1528.92,3548.36" fill="#fff" stroke="#ff8000" stroke-width="6.1" stroke-linejoin="round"/>
<polygon points="1620.5,3520.64 1626.08,3534.36 1640.85,3535.43 1629.54,3544.98 1633.08,3559.36 1620.5,3551.54 1607.92,3559.36 1611.46,3544.98 1600.15,3535.43 1614.92,3534.36" fill="#fff" stroke="#ff8000" stroke-width="6.1" stroke-linejoin="round"/>
<polygon points="1699.5,3496.64 1705.08,3510.36 1719.85,3511.43 1708.54,3520.98 1712.08,3535.36 1699.5,3527.54 1686.92,3535.36 1690.46,3520.98 1679.15,3511.43 1693.92,3510.36" fill="#fff" stroke="#ff8000" stroke-width="6.1" stroke-linejoin="round"/>
<polygon points="1780,3509.64 1785.58,3523.36 1800.35,3524.43 1789.04,3533.98 1792.58,3548.36 1780,3540.54 1767.42,3548.36 1770.96,3533.98 1759.65,3524.43 1774.42,3523.36" fill="#fff" stroke="#ff8000" stroke-width="6.1" stroke-linejoin="round"/>
<polygon points="1862.5,3467.14 1868.08,3480.86 1882.85,3481.93 1871.54,3491.48 1875.08,3505.86 1862.5,3498.04 1849.92,3505.86 1853.46,3491.48 1842.15,3481.93 1856.92,3480.86" fill="#fff" stroke="#ff8000" stroke-width="6.1" stroke-linejoin="round"/>
<rect x="527.25" y="4294.25" width="32.5" height="32.5" fill="#fff" stroke="#000" stroke-width="5.5"/>
<rect x="603.75" y="4218.75" width="32.5" height="32.5" fill="#fff" stroke="#000" stroke-width="5.5"/>
<rect x="671.25" y="4142.75" width="32.5" height="32.5" fill="#fff" stroke="#000" stroke-width="5.5"/>
<rect x="751.25" y="4056.25" width="32.5" height="32.5" fill="#fff" stroke="#000" stroke-width="5.5"/>
<rect x="828.75" y="3982.75" width="32.5" height="32.5" fill="#fff" stroke="#000" stroke-width="5.5"/>
<rect x="912.25" y="3911.25" width="32.5" height="32.5" fill="#fff" stroke="#000" stroke-width="5.5"/>
<rect x="990.25" y="3834.75" width="32.5" height="32.5" fill="#fff" stroke="#000" stroke-width="5.5"/>
<rect x="1074.75" y="3782.25" width="32.5" height="32.5" fill="#fff" stroke="#000" stroke-width="5.5"/>
<rect x="1149.75" y="3717.75" width="32.5" height="32.5" fill="#fff" stroke="#000" stroke-width="5.5"/>
<rect x="1237.75" y="3658.75" width="32.5" height="32.5" fill="#fff" stroke="#000" stroke-width="5.5"/>
<rect x="1318.75" y="3608.25" width="32.5" height="32.5" fill="#fff" stroke="#000" stroke-width="5.5"/>
<rect x="1399.75" y="3571.25" width="32.5" height="32.5" fill="#fff" stroke="#000" stroke-width="5.5"/>
<rect x="1482.25" y="3524.75" width="32.5" height="32.5" fill="#fff" stroke="#000" stroke-width="5.5"/>
<rect x="1562.75" y="3501.25" width="32.5" height="32.5" fill="#fff" stroke="#000" stroke-width="5.5"/>
<rect x="1644.75" y="3503.75" width="32.5" height="32.5" fill="#fff" stroke="#000" stroke-width="5.5"/>
<rect x="1724.75" y="3475.25" width="32.5" height="32.5" fill="#fff" stroke="#000" stroke-width="5.5"/>
<rect x="1803.75" y="3468.75" width="32.5" height="32.5" fill="#fff" stroke="#000" stroke-width="5.5"/>
<circle cx="543.5" cy="4353" r="21" fill="#ff0000"/>
<circle cx="620" cy="4281" r="21" fill="#ff0000"/>
<circle cx="687.5" cy="4202.5" r="21" fill="#ff0000"/>
<circle cx="766" cy="4142.5" r="21" fill="#ff0000"/>
<circle cx="848.5" cy="4047.5" r="21" fill="#ff0000"/>
<circle cx="926" cy="3981" r="21" fill="#ff0000"/>
<circle cx="1010" cy="3905" r="21" fill="#ff0000"/>
<circle cx="1089" cy="3858.5" r="21" fill="#ff0000"/>
<circle cx="1172.5" cy="3741" r="21" fill="#ff0000"/>
<circle cx="1251.5" cy="3762.5" r="21" fill="#ff0000"/>
<circle cx="1337.5" cy="3684" r="21" fill="#ff0000"/>
<circle cx="1416" cy="3654" r="21" fill="#ff0000"/>
<circle cx="1500" cy="3592.5" r="21" fill="#ff0000"/>
<circle cx="1580.5" cy="3571" r="21" fill="#ff0000"/>
<circle cx="1662.5" cy="3539" r="21" fill="#ff0000"/>
<circle cx="1742" cy="3548.5" r="21" fill="#ff0000"/>
<circle cx="1823" cy="3538.5" r="21" fill="#ff0000"/>
<polygon points="520.9,4305.1 566.3,4305.1 543.6,4344.4" fill="#ff00ff" stroke="#ff00ff" stroke-width="5" stroke-linejoin="round"/>
<polygon points="597.3,4224 642.7,4224 620,4263.3" fill="#ff00ff" stroke="#ff00ff" stroke-width="5" stroke-linejoin="round"/>
<polygon points="668.3,4146.5 713.7,4146.5 691,4185.8" fill="#ff00ff" stroke="#ff00ff" stroke-width="5" stroke-linejoin="round"/>
<polygon points="748.3,4086 793.7,4086 771,4125.3" fill="#ff00ff" stroke="#ff00ff" stroke-width="5" stroke-linejoin="round"/>
<polygon points="830.8,3980.5 876.2,3980.5 853.5,4019.8" fill="#ff00ff" stroke="#ff00ff" stroke-width="5" stroke-linejoin="round"/>
<polygon points="912.3,3921.5 957.7,3921.5 935,3960.8" fill="#ff00ff" stroke="#ff00ff" stroke-width="5" stroke-linejoin="round"/>
<polygon points="994.8,3825.5 1040.2,3825.5 1017.5,3864.8" fill="#ff00ff" stroke="#ff00ff" stroke-width="5" stroke-linejoin="round"/>
<polygon points="1077.3,3809 1122.7,3809 1100,3848.3" fill="#ff00ff" stroke="#ff00ff" stroke-width="5" stroke-linejoin="round"/>
<polygon points="1159.8,3689.5 1205.2,3689.5 1182.5,3728.8" fill="#ff00ff" stroke="#ff00ff" stroke-width="5" stroke-linejoin="round"/>
<polygon points="1242.3,3690.5 1287.7,3690.5 1265,3729.8" fill="#ff00ff" stroke="#ff00ff" stroke-width="5" stroke-linejoin="round"/>
<polygon points="1326.3,3619 1371.7,3619 1349,3658.3" fill="#ff00ff" stroke="#ff00ff" stroke-width="5" stroke-linejoin="round"/>
<polygon points="1407.3,3595.5 1452.7,3595.5 1430,3634.8" fill="#ff00ff" stroke="#ff00ff" stroke-width="5" stroke-linejoin="round"/>
<polygon points="1489.8,3555.5 1535.2,3555.5 1512.5,3594.8" fill="#ff00ff" stroke="#ff00ff" stroke-width="5" stroke-linejoin="round"/>
<polygon points="1573.3,3518 1618.7,3518 1596,3557.3" fill="#ff00ff" stroke="#ff00ff" stroke-width="5" stroke-linejoin="round"/>
<polygon points="1654.8,3526.5 1700.2,3526.5 1677.5,3565.8" fill="#ff00ff" stroke="#ff00ff" stroke-width="5" stroke-linejoin="round"/>
<polygon points="1735.8,3513 1781.2,3513 1758.5,3552.3" fill="#ff00ff" stroke="#ff00ff" stroke-width="5" stroke-linejoin="round"/>
<polygon points="1816.3,3483 1861.7,3483 1839,3522.3" fill="#ff00ff" stroke="#ff00ff" stroke-width="5" stroke-linejoin="round"/>
<polygon points="521.8,4403.2 567.2,4403.2 544.5,4363.9" fill="#fff" stroke="#0000ff" stroke-width="5" stroke-linejoin="round"/>
<polygon points="597.3,4344 642.7,4344 620,4304.7" fill="#fff" stroke="#0000ff" stroke-width="5" stroke-linejoin="round"/>
<polygon points="668.8,4255 714.2,4255 691.5,4215.7" fill="#fff" stroke="#0000ff" stroke-width="5" stroke-linejoin="round"/>
<polygon points="746.3,4226 791.7,4226 769,4186.7" fill="#fff" stroke="#0000ff" stroke-width="5" stroke-linejoin="round"/>
<polygon points="829.3,4104 874.7,4104 852,4064.7" fill="#fff" stroke="#0000ff" stroke-width="5" stroke-linejoin="round"/>
<polygon points="908.3,4099.5 953.7,4099.5 931,4060.2" fill="#fff" stroke="#0000ff" stroke-width="5" stroke-linejoin="round"/>
<polygon points="990.8,3974.5 1036.2,3974.5 1013.5,3935.2" fill="#fff" stroke="#0000ff" stroke-width="5" stroke-linejoin="round"/>
<polygon points="1071.3,3981 1116.7,3981 1094,3941.7" fill="#fff" stroke="#0000ff" stroke-width="5" stroke-linejoin="round"/>
<polygon points="1154.8,3864.5 1200.2,3864.5 1177.5,3825.2" fill="#fff" stroke="#0000ff" stroke-width="5" stroke-linejoin="round"/>
<polygon points="1233.8,3870.5 1279.2,3870.5 1256.5,3831.2" fill="#fff" stroke="#0000ff" stroke-width="5" stroke-linejoin="round"/>
<polygon points="1318.3,3783.5 1363.7,3783.5 1341,3744.2" fill="#fff" stroke="#0000ff" stroke-width="5" stroke-linejoin="round"/>
<polygon points="1398.8,3799.5 1444.2,3799.5 1421.5,3760.2" fill="#fff" stroke="#0000ff" stroke-width="5" stroke-linejoin="round"/>
<polygon points="1482.3,3712 1527.7,3712 1505,3672.7" fill="#fff" stroke="#0000ff" stroke-width="5" stroke-linejoin="round"/>
<polygon points="1563.3,3690.5 1608.7,3690.5 1586,3651.2" fill="#fff" stroke="#0000ff" stroke-width="5" stroke-linejoin="round"/>
<polygon points="1645.8,3674.5 1691.2,3674.5 1668.5,3635.2" fill="#fff" stroke="#0000ff" stroke-width="5" stroke-linejoin="round"/>
<polygon points="1725.3,3667 1770.7,3667 1748,3627.7" fill="#fff" stroke="#0000ff" stroke-width="5" stroke-linejoin="round"/>
<polygon points="1805.3,3681.5 1850.7,3681.5 1828,3642.2" fill="#fff" stroke="#0000ff" stroke-width="5" stroke-linejoin="round"/>
<polygon points="516.5,4479.5 543.5,4452.5 570.5,4479.5 543.5,4506.5" fill="#808080"/><polygon points="522.5,4478 564.5,4478 543.5,4457" fill="#00ff00"/>
<polygon points="594.5,4432.5 621.5,4405.5 648.5,4432.5 621.5,4459.5" fill="#808080"/><polygon points="600.5,4431 642.5,4431 621.5,4410" fill="#00ff00"/>
<polygon points="669,4326.5 696,4299.5 723,4326.5 696,4353.5" fill="#808080"/><polygon points="675,4325 717,4325 696,4304" fill="#00ff00"/>
<polygon points="753,4311 780,4284 807,4311 780,4338" fill="#808080"/><polygon points="759,4309.5 801,4309.5 780,4288.5" fill="#00ff00"/>
<polygon points="836.5,4201 863.5,4174 890.5,4201 863.5,4228" fill="#808080"/><polygon points="842.5,4199.5 884.5,4199.5 863.5,4178.5" fill="#00ff00"/>
<polygon points="920.5,4206 947.5,4179 974.5,4206 947.5,4233" fill="#808080"/><polygon points="926.5,4204.5 968.5,4204.5 947.5,4183.5" fill="#00ff00"/>
<polygon points="1004.5,4089.5 1031.5,4062.5 1058.5,4089.5 1031.5,4116.5" fill="#808080"/><polygon points="1010.5,4088 1052.5,4088 1031.5,4067" fill="#00ff00"/>
<polygon points="1090.5,4119.5 1117.5,4092.5 1144.5,4119.5 1117.5,4146.5" fill="#808080"/><polygon points="1096.5,4118 1138.5,4118 1117.5,4097" fill="#00ff00"/>
<polygon points="1173,3996.5 1200,3969.5 1227,3996.5 1200,4023.5" fill="#808080"/><polygon points="1179,3995 1221,3995 1200,3974" fill="#00ff00"/>
<polygon points="1258,4037.5 1285,4010.5 1312,4037.5 1285,4064.5" fill="#808080"/><polygon points="1264,4036 1306,4036 1285,4015" fill="#00ff00"/>
<polygon points="1343,3924 1370,3897 1397,3924 1370,3951" fill="#808080"/><polygon points="1349,3922.5 1391,3922.5 1370,3901.5" fill="#00ff00"/>
<polygon points="1427,3965 1454,3938 1481,3965 1454,3992" fill="#808080"/><polygon points="1433,3963.5 1475,3963.5 1454,3942.5" fill="#00ff00"/>
<polygon points="1511,3883.5 1538,3856.5 1565,3883.5 1538,3910.5" fill="#808080"/><polygon points="1517,3882 1559,3882 1538,3861" fill="#00ff00"/>
<polygon points="1594.5,3903.5 1621.5,3876.5 1648.5,3903.5 1621.5,3930.5" fill="#808080"/><polygon points="1600.5,3902 1642.5,3902 1621.5,3881" fill="#00ff00"/>
<polygon points="1676,3880.5 1703,3853.5 1730,3880.5 1703,3907.5" fill="#808080"/><polygon points="1682,3879 1724,3879 1703,3858" fill="#00ff00"/>
<polygon points="1757.5,3908.5 1784.5,3881.5 1811.5,3908.5 1784.5,3935.5" fill="#808080"/><polygon points="1763.5,3907 1805.5,3907 1784.5,3886" fill="#00ff00"/>
<polygon points="1838.5,3930 1865.5,3903 1892.5,3930 1865.5,3957" fill="#808080"/><polygon points="1844.5,3928.5 1886.5,3928.5 1865.5,3907.5" fill="#00ff00"/>
<rect x="388.8" y="3262" width="1624.5" height="1307.6" fill="none" stroke="#000" stroke-width="5" stroke-linejoin="round"/>
<path d="M551.25 4569.6V4542.1M713.7 4569.6V4554.6M876.15 4569.6V4542.1M1038.6 4569.6V4554.6M1201.05 4569.6V4542.1M1363.5 4569.6V4554.6M1525.95 4569.6V4542.1M1688.4 4569.6V4554.6M1850.85 4569.6V4542.1" stroke="#000" stroke-width="5.5" fill="none"/>
<path d="M388.8 4424.31H416.8M388.8 4133.73H416.8M388.8 3843.16H416.8M388.8 3552.58H416.8M388.8 4279.02H403.8M388.8 3988.44H403.8M388.8 3697.87H403.8M388.8 3407.29H403.8" stroke="#000" stroke-width="5.5" fill="none"/>
<text transform="translate(551.25 4656.1) scale(1 1.048)" font-size="74.5" text-anchor="middle">300</text>
<text transform="translate(876.15 4656.1) scale(1 1.048)" font-size="74.5" text-anchor="middle">400</text>
<text transform="translate(1201.05 4656.1) scale(1 1.048)" font-size="74.5" text-anchor="middle">500</text>
<text transform="translate(1525.95 4656.1) scale(1 1.048)" font-size="74.5" text-anchor="middle">600</text>
<text transform="translate(1850.85 4656.1) scale(1 1.048)" font-size="74.5" text-anchor="middle">700</text>
<text transform="translate(360.9 3283.45) scale(1 1.048)" font-size="74.5" text-anchor="end">1.0</text>
<text transform="translate(360.9 3574.03) scale(1 1.048)" font-size="74.5" text-anchor="end">0.8</text>
<text transform="translate(360.9 3864.61) scale(1 1.048)" font-size="74.5" text-anchor="end">0.6</text>
<text transform="translate(360.9 4155.18) scale(1 1.048)" font-size="74.5" text-anchor="end">0.4</text>
<text transform="translate(360.9 4445.76) scale(1 1.048)" font-size="74.5" text-anchor="end">0.2</text>
<text transform="translate(1201 4772.8) scale(1 1.035)" font-size="68" text-anchor="middle" font-weight="bold">T (K)</text>
<text transform="translate(188.2 3915) rotate(-90) scale(1 1.035)" font-size="68" text-anchor="middle" font-weight="bold">PF (mW/K<tspan font-size="40" dy="-30.5">2</tspan><tspan dy="30.5">m)</tspan></text>
<text x="429" y="3391" font-size="113" text-anchor="start">(c)</text>
<polygon points="1605.5,4004.14 1611.08,4017.86 1625.85,4018.93 1614.54,4028.48 1618.08,4042.86 1605.5,4035.04 1592.92,4042.86 1596.46,4028.48 1585.15,4018.93 1599.92,4017.86" fill="#fff" stroke="#ff8000" stroke-width="6.1" stroke-linejoin="round"/>
<text transform="translate(1709 4050.15) scale(1 1.048)" font-size="75" text-anchor="start">0</text>
<rect x="1589.25" y="4099.3" width="32.5" height="32.5" fill="#fff" stroke="#000" stroke-width="5.5"/>
<text transform="translate(1709 4141.4) scale(1 1.048)" font-size="75" text-anchor="start">0.02</text>
<circle cx="1605.5" cy="4207.3" r="21" fill="#ff0000"/>
<text transform="translate(1709 4232.65) scale(1 1.048)" font-size="75" text-anchor="start">0.05</text>
<polygon points="1582.8,4285.85 1628.2,4285.85 1605.5,4325.15" fill="#ff00ff" stroke="#ff00ff" stroke-width="5" stroke-linejoin="round"/>
<text transform="translate(1709 4323.9) scale(1 1.048)" font-size="75" text-anchor="start">0.10</text>
<polygon points="1582.8,4402.8 1628.2,4402.8 1605.5,4363.5" fill="#fff" stroke="#0000ff" stroke-width="5" stroke-linejoin="round"/>
<text transform="translate(1709 4415.15) scale(1 1.048)" font-size="75" text-anchor="start">0.15</text>
<polygon points="1578.5,4480.75 1605.5,4453.75 1632.5,4480.75 1605.5,4507.75" fill="#808080"/><polygon points="1584.5,4479.25 1626.5,4479.25 1605.5,4458.25" fill="#00ff00"/>
<text transform="translate(1709 4506.4) scale(1 1.048)" font-size="75" text-anchor="start">0.20</text>
</g>
</svg>
</body></html>
